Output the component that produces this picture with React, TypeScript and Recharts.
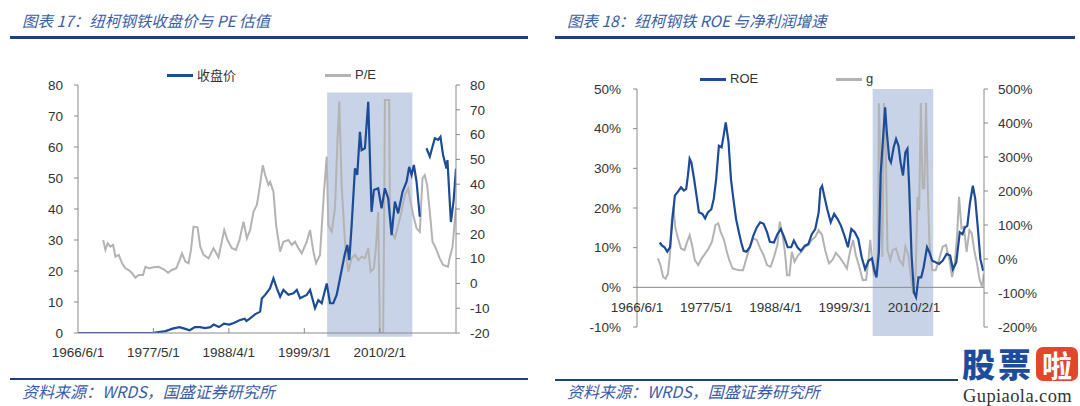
import React from 'react';
import { LineChart, Line, XAxis, YAxis, ReferenceArea, ReferenceLine } from 'recharts';

// ---------- shared x axis ----------
const xTickValues = [1966.42, 1977.33, 1988.25, 1999.17, 2010.08];
const xTickLabels = ['1966/6/1', '1977/5/1', '1988/4/1', '1999/3/1', '2010/2/1'];
const xDomain = [1966.42, 2021.12];

// ---------- chart 17: price & P/E ----------
const priceYears = [
  1966.42, 1977.11, 1978.11, 1979.1, 1980.1, 1981.09, 1981.84, 1982.58, 1983.33, 1984.07,
  1984.82, 1985.57, 1986.06, 1986.81, 1987.55, 1988.3, 1989.05, 1989.79, 1990.54, 1990.79,
  1991.33, 1992.03, 1992.78, 1993.02, 1993.5, 1994.2, 1994.7, 1995.2, 1995.67, 1996.14,
  1996.87, 1997.59, 1998.08, 1998.56, 1999.52, 2000.0, 2000.72, 2001.2, 2001.69, 2002.41,
  2002.89, 2003.36, 2003.85, 2004.33, 2005.05, 2005.39, 2005.68, 2006.02, 2006.5, 2006.83,
  2007.22, 2007.46, 2007.94, 2008.42, 2008.9, 2009.24, 2009.86, 2010.35, 2010.83, 2011.31,
  2011.8, 2012.28, 2012.75, 2013.39, 2013.97, 2014.34, 2014.69, 2015.02, 2015.41, 2015.88,
  2016.3, 2016.85, 2017.33, 2018.05, 2018.53, 2018.87, 2019.25, 2019.74, 2019.88, 2020.38,
  2020.78, 2021.12,
];
const priceValues: (number | null)[] = [
  0, 0, 0.3, 0.6, 1.4, 1.9, 1.4, 0.9, 1.9, 1.9,
  1.6, 1.9, 2.7, 1.9, 3.0, 2.7, 3.3, 4.1, 4.6, 3.9,
  4.7, 6.0, 6.9, 11.1, 12.3, 14.4, 17.6, 14.4, 11.7, 13.9,
  12.3, 12.8, 13.9, 11.2, 12.3, 13.9, 8.0, 10.6, 9.6, 16.0,
  9.6, 9.6, 12.3, 17.6, 25.7, 28.4, 23.5, 34.8, 53.1, 51.0,
  64.9, 59.0, 59.6, 74.6, 39.1, 46.1, 46.7, 40.2, 46.7, 43.4,
  31.6, 42.4, 38.6, 45.6, 48.8, 53.6, 51.0, 54.2, 48.8, 37.5,
  null, 59.6, 56.9, 62.8, 62.3, 63.3, 57.4, 53.1, 55.8, 35.8,
  42.8, 53.0,
];

const peYears = [
  1970.06, 1970.39, 1970.72, 1971.11, 1971.5, 1971.84, 1972.31, 1972.8, 1973.28, 1973.76,
  1974.25, 1974.72, 1975.2, 1975.83, 1976.17, 1976.65, 1977.37, 1978.09, 1978.81, 1979.45,
  1980.02, 1980.65, 1981.12, 1981.47, 1981.95, 1982.42, 1982.77, 1983.14, 1983.72, 1984.11,
  1984.59, 1985.31, 1986.03, 1986.75, 1987.58, 1988.05, 1988.69, 1989.27, 1989.79, 1990.37,
  1990.86, 1991.33, 1991.81, 1992.3, 1992.54, 1993.17, 1993.5, 1993.98, 1994.22, 1994.7,
  1995.09, 1995.67, 1996.14, 1996.87, 1997.35, 1997.83, 1998.31, 1998.8, 1999.52, 2000.0,
  2000.48, 2000.87, 2001.44, 2002.02, 2002.41, 2002.64, 2003.13, 2003.61, 2003.94, 2004.23,
  2004.57, 2005.05, 2005.53, 2006.02, 2006.5, 2006.98, 2007.47, 2007.94, 2008.42, 2008.76,
  2009.24, 2009.53, 2009.86, 2010.1, 2010.58, 2010.73, 2010.83, 2011.45, 2011.55, 2011.8,
  2012.28, 2012.75, 2013.24, 2013.72, 2014.2, 2014.54, 2014.93, 2015.41, 2015.88, 2016.27,
  2016.6, 2016.94, 2017.33, 2017.72, 2018.2, 2018.77, 2019.25, 2019.97, 2020.12, 2020.62,
  2021.12,
];
const peValues = [
  17.5, 13.5, 16.2, 14.8, 15.5, 10.8, 11.5, 8.1, 6.1, 5.4,
  4.1, 2.3, 3.4, 3.4, 6.7, 6.1, 6.5, 6.7, 5.7, 4.3,
  5.4, 6.1, 9.4, 12.1, 8.8, 8.1, 13.5, 22.9, 22.6, 14.8,
  11.5, 10.1, 14.2, 10.5, 21.5, 17.5, 14.2, 13.5, 17.5, 24.9,
  18.2, 21.5, 28.9, 31.6, 35.6, 47.7, 43.7, 39.7, 41.0, 37.0,
  23.5, 12.8, 16.8, 17.5, 15.5, 16.8, 14.2, 12.1, 16.8, 21.5,
  12.8, 8.1, 11.5, 37.0, 51.1, 23.5, 20.8, 30.3, 55.8, 73.3,
  39.7, 16.8, 4.7, 10.1, 11.5, 9.4, 10.8, 10.1, 14.2, 4.7,
  6.1, 14.2, 28.9, -20, -20, 28.9, 74, 74, 28.9, 20.8,
  18.2, 23.5, 28.9, 35.6, 38.3, 33.0, 27.6, 22.2, 20.8, 42.4,
  43.7, 39.7, 28.9, 16.8, 14.2, 10.1, 7.4, 6.7, 9.3, 14.7,
  30.9,
];
const priceTicks = [0, 10, 20, 30, 40, 50, 60, 70, 80];
const peTicks = [-20, -10, 0, 10, 20, 30, 40, 50, 60, 70, 80];
const shade17 = { x1: 2002.47, x2: 2014.81, y1: -1.2, y2: 77.6 };

// ---------- chart 18: ROE & g ----------
const roeYears = [
  1970.0, 1970.38, 1970.76, 1971.19, 1971.63, 1972.01, 1972.39, 1972.82, 1973.36, 1973.8,
  1974.18, 1974.45, 1974.72, 1974.99, 1975.42, 1975.8, 1976.18, 1976.73, 1977.16, 1977.59,
  1978.14, 1978.52, 1978.9, 1979.33, 1979.76, 1980.03, 1980.41, 1980.85, 1981.23, 1981.61,
  1982.04, 1982.48, 1982.85, 1983.23, 1983.67, 1984.21, 1984.75, 1985.3, 1985.84, 1986.38,
  1986.92, 1987.36, 1988.01, 1988.55, 1989.09, 1989.63, 1990.18, 1990.72, 1991.15, 1991.7,
  1992.24, 1992.89, 1993.43, 1993.97, 1994.52, 1995.06, 1995.33, 1995.6, 1995.93, 1996.41,
  1996.96, 1997.5, 1998.04, 1998.58, 1999.13, 1999.67, 2000.21, 2000.75, 2001.3, 2001.84,
  2002.38, 2002.92, 2003.47, 2003.85, 2004.17, 2004.55, 2004.82, 2005.2, 2005.53, 2005.8,
  2006.18, 2006.45, 2006.88, 2007.26, 2007.64, 2007.97, 2008.35, 2008.73, 2009.05, 2009.32,
  2009.7, 2010.08, 2010.41, 2010.79, 2011.22, 2011.6, 2012.14, 2012.52, 2012.96, 2013.5,
  2014.04, 2014.59, 2015.24, 2015.78, 2016.21, 2016.75, 2017.3, 2017.73, 2018.11, 2018.49,
  2018.92, 2019.36, 2019.74, 2020.12, 2020.55, 2020.99,
];
const roeValues = [
  11.3, 10.5, 10.1, 9.0, 10.1, 17.2, 23.1, 24.0, 25.2, 24.4,
  24.8, 28.2, 32.4, 31.5, 27.3, 23.1, 18.9, 18.5, 17.4, 18.9,
  19.7, 22.3, 27.3, 35.7, 35.3, 37.8, 41.6, 36.6, 27.3, 22.3,
  17.2, 13.9, 11.3, 9.2, 9.0, 10.1, 13.0, 15.1, 16.4, 16.0,
  13.9, 11.5, 11.3, 13.4, 14.7, 12.6, 10.1, 10.1, 11.8, 10.1,
  9.2, 10.5, 10.9, 13.4, 14.7, 18.9, 24.8, 25.6, 23.1, 19.7,
  16.4, 18.5, 17.2, 15.5, 13.0, 10.1, 14.7, 13.9, 12.2, 7.6,
  4.6, 6.7, 7.3, 4.2, 2.5, 8.8, 28.2, 37.4, 45.4, 39.1,
  32.4, 31.5, 35.3, 37.4, 35.7, 31.5, 28.2, 34.0, 34.9, 25.6,
  8.0, -1.3, -2.5, 2.5, 2.5, 5.0, 10.1, 8.8, 6.7, 6.3,
  5.9, 6.7, 8.4, 8.0, 4.6, 6.3, 13.9, 13.4, 15.1, 15.5,
  21.4, 25.6, 22.3, 15.5, 7.1, 4.2,
];

const gYears = [
  1969.73, 1970.11, 1970.54, 1970.92, 1971.3, 1971.63, 1971.9, 1972.17, 1972.44, 1972.82,
  1973.36, 1973.91, 1974.34, 1974.72, 1975.1, 1975.53, 1976.07, 1976.62, 1977.16, 1977.7,
  1978.24, 1978.79, 1979.22, 1979.6, 1980.14, 1980.58, 1980.96, 1981.5, 1982.04, 1982.58,
  1983.13, 1983.67, 1984.21, 1984.75, 1985.3, 1985.84, 1986.38, 1986.92, 1987.47, 1988.01,
  1988.55, 1988.93, 1989.36, 1989.74, 1990.07, 1990.45, 1990.83, 1991.26, 1991.8, 1992.35,
  1992.89, 1993.43, 1993.97, 1994.52, 1995.06, 1995.6, 1996.14, 1996.69, 1997.23, 1997.77,
  1998.31, 1998.86, 1999.51, 1999.94, 2000.48, 2000.92, 2001.46, 2002.0, 2002.54, 2002.92,
  2003.19, 2003.47, 2003.74, 2004.12, 2004.39, 2004.55, 2004.82, 2005.09, 2005.36, 2005.64,
  2005.91, 2006.34, 2006.72, 2007.26, 2007.8, 2008.35, 2008.73, 2009.16, 2009.59, 2009.97,
  2010.35, 2010.63, 2010.9, 2011.17, 2011.44, 2011.71, 2011.98, 2012.25, 2012.52, 2012.96,
  2013.5, 2014.04, 2014.59, 2015.13, 2015.67, 2016.1, 2016.48, 2016.86, 2017.19, 2017.57,
  2017.95, 2018.38, 2018.82, 2019.2, 2019.58, 2020.01, 2020.44, 2020.82, 2021.09,
];
const gValues = [
  2, -18, -53, -58, -43, 16, 115, 154, 95, 65,
  31, 26, 51, 70, 41, -3, -18, 2, 16, 31,
  51, 100, 105, 80, 56, 21, -3, -28, -31, -33,
  -33, 2, 36, 61, 56, 31, 11, -18, -23, 6,
  41, 110, 70, 21, -48, -48, 21, -8, 11, 21,
  36, 41, 56, 65, 85, 70, 21, -13, -3, 18,
  6, -8, -28, 16, 56, 11, -23, -62, -61, 2,
  56, -3, -43, -28, 16, 459, 291, 6, 459, 311,
  26, -3, 26, 31, -3, -18, 36, 16, -53, -102,
  -43, 183, 144, 459, 208, 208, 459, 213, 46, -33,
  -33, -3, 36, 41, -3, -53, -18, 65, 183, 90,
  95, 21, 85, 75, 26, -13, -62, -82, -43,
];
const roeTicks = [-10, 0, 10, 20, 30, 40, 50];
const gTicks = [-200, -100, 0, 100, 200, 300, 400, 500];
const shade18 = { x1: 2003.57, x2: 2013.12, y1: -12.3, y2: 50 };

// ---------- build tables ----------
const priceData = priceYears.map((year, i) => ({ year, price: priceValues[i] }));
const peData = peYears.map((year, i) => ({ year, pe: peValues[i] }));
const roeData = roeYears.map((year, i) => ({ year, roe: roeValues[i] }));
const gData = gYears.map((year, i) => ({ year, g: gValues[i] }));

// ---------- styles ----------
const BLUE = '#1C4B97';
const GRAY = '#B3B3B3';
const SHADE = '#C9D3E7';
const AXIS = '#8A8A8A';
const TEXT = '#333333';
const TITLE = '#3A5DA5';
const RULE = '#1F3F7F';
const FONT = '"Liberation Sans", Arial, sans-serif';
const CJK = '"Noto Sans CJK SC", sans-serif';
const TICK_FS = 13.5;

const fmtX = (v: number) => {
  const i = xTickValues.indexOf(v);
  return i >= 0 ? xTickLabels[i] : '';
};
const pct = (v: number) => `${v}%`;
const tickStyle = { fill: TEXT, fontSize: TICK_FS, fontFamily: FONT };

const LeftXTick = (props: any) => {
  const { x, y, payload } = props;
  return (
    <g>
      {payload.value > xDomain[0] + 0.01 && (
        <line x1={x} x2={x} y1={y} y2={y - 5} stroke={AXIS} strokeWidth={1} />
      )}
      <text x={x} y={y + 24} textAnchor="middle" fill={TEXT} fontSize={TICK_FS} fontFamily={FONT}>
        {fmtX(payload.value)}
      </text>
    </g>
  );
};

const RightXTick = (props: any) => {
  const { x, y, payload } = props;
  return (
    <text x={x} y={y - 15.5} textAnchor="middle" fill={TEXT} fontSize={TICK_FS} fontFamily={FONT}>
      {fmtX(payload.value)}
    </text>
  );
};

const abs = (o: React.CSSProperties): React.CSSProperties => ({ position: 'absolute', ...o });

const LegendItem = ({ left, top, color, label, cjk }: any) => (
  <>
    <div style={abs({ left, top: top - 1, width: 26, height: 2.5, background: color })} />
    <div
      style={abs({
        left: left + 30,
        top: top - 9,
        height: 18,
        lineHeight: '18px',
        fontSize: 13,
        fontFamily: cjk ? CJK : FONT,
        color: TEXT,
        whiteSpace: 'nowrap',
      })}
    >
      {label}
    </div>
  </>
);

const Title = ({ left, text }: any) => (
  <div
    style={abs({
      left,
      top: 9,
      height: 22,
      lineHeight: '22px',
      fontSize: 15.5,
      fontStyle: 'italic',
      fontFamily: CJK,
      color: TITLE,
      whiteSpace: 'pre',
    })}
  >
    {text}
  </div>
);

const Footer = ({ left, text }: any) => (
  <div
    style={abs({
      left,
      top: 380,
      height: 22,
      lineHeight: '22px',
      fontSize: 16,
      fontStyle: 'italic',
      fontFamily: CJK,
      color: TITLE,
      whiteSpace: 'pre',
    })}
  >
    {text}
  </div>
);

export default function App() {
  return (
    <div style={abs({ left: 0, top: 0, width: 1080, height: 406, background: '#fff', overflow: 'hidden' })}>
      <Title left={22} text={'图表 17：纽柯钢铁收盘价与 PE 估值'} />
      <Title left={567} text={'图表 18：纽柯钢铁 ROE 与净利润增速'} />
      <div style={abs({ left: 10, top: 36, width: 518, height: 2.5, background: RULE })} />
      <div style={abs({ left: 555, top: 36, width: 520, height: 2.5, background: RULE })} />

      {/* Chart 17 */}
      <div style={abs({ left: 0, top: 0 })}>
        <LineChart width={540} height={406} margin={{ top: 85, right: 34, bottom: 43, left: 38 }}>
          <XAxis
            type="number"
            dataKey="year"
            domain={xDomain}
            ticks={xTickValues}
            allowDataOverflow
            stroke={AXIS}
            tickLine={false}
            tickSize={0}
            tickMargin={0}
            tick={<LeftXTick />}
            height={30}
            interval={0}
          />
          <YAxis
            yAxisId="price"
            domain={[0, 80]}
            ticks={priceTicks}
            width={40}
            stroke={AXIS}
            tickSize={4}
            tickMargin={11}
            tick={tickStyle}
            allowDataOverflow
            interval={0}
          />
          <YAxis
            yAxisId="pe"
            orientation="right"
            domain={[-20, 80]}
            ticks={peTicks}
            width={50}
            stroke={AXIS}
            tickSize={4}
            tickMargin={10}
            tick={{ ...tickStyle, textAnchor: 'start' }}
            allowDataOverflow
            interval={0}
          />
          <ReferenceArea
            yAxisId="price"
            x1={shade17.x1}
            x2={shade17.x2}
            y1={shade17.y1}
            y2={shade17.y2}
            fill={SHADE}
            fillOpacity={1}
            stroke="none"
            ifOverflow="visible"
          />
          <Line
            yAxisId="pe"
            data={peData}
            dataKey="pe"
            type="linear"
            stroke={GRAY}
            strokeWidth={2}
            dot={false}
            activeDot={false}
            isAnimationActive={false}
          />
          <Line
            yAxisId="price"
            data={priceData}
            dataKey="price"
            type="linear"
            stroke={BLUE}
            strokeWidth={2.2}
            dot={false}
            activeDot={false}
            connectNulls={false}
            isAnimationActive={false}
          />
        </LineChart>
      </div>

      {/* Chart 18 */}
      <div style={abs({ left: 540, top: 0 })}>
        <LineChart width={540} height={406} margin={{ top: 89, right: 46, bottom: 49, left: 57 }}>
          <XAxis
            type="number"
            dataKey="year"
            domain={xDomain}
            ticks={xTickValues}
            allowDataOverflow
            axisLine={false}
            tickLine={false}
            tickSize={0}
            tickMargin={0}
            tick={<RightXTick />}
            height={30}
            interval={0}
          />
          <YAxis
            yAxisId="roe"
            domain={[-10, 50]}
            ticks={roeTicks}
            tickFormatter={pct}
            width={40}
            stroke={AXIS}
            tickSize={4}
            tickMargin={12}
            tick={tickStyle}
            allowDataOverflow
            interval={0}
          />
          <YAxis
            yAxisId="g"
            orientation="right"
            domain={[-200, 500]}
            ticks={gTicks}
            tickFormatter={pct}
            width={50}
            stroke={AXIS}
            tickSize={4}
            tickMargin={10}
            tick={{ ...tickStyle, textAnchor: 'start' }}
            allowDataOverflow
            interval={0}
          />
          <ReferenceArea
            yAxisId="roe"
            x1={shade18.x1}
            x2={shade18.x2}
            y1={shade18.y1}
            y2={shade18.y2}
            fill={SHADE}
            fillOpacity={1}
            stroke="none"
            ifOverflow="visible"
          />
          <ReferenceLine yAxisId="roe" y={0} stroke={AXIS} strokeWidth={1} />
          <Line
            yAxisId="g"
            data={gData}
            dataKey="g"
            type="linear"
            stroke={GRAY}
            strokeWidth={2}
            dot={false}
            activeDot={false}
            isAnimationActive={false}
          />
          <Line
            yAxisId="roe"
            data={roeData}
            dataKey="roe"
            type="linear"
            stroke={BLUE}
            strokeWidth={2.2}
            dot={false}
            activeDot={false}
            isAnimationActive={false}
          />
        </LineChart>
      </div>

      <LegendItem left={167} top={75} color={BLUE} label="收盘价" cjk />
      <LegendItem left={325} top={75} color={GRAY} label="P/E" />
      <LegendItem left={700} top={79} color={BLUE} label="ROE" />
      <LegendItem left={836} top={79} color={GRAY} label="g" />

      <div style={abs({ left: 10, top: 378, width: 518, height: 2, background: RULE })} />
      <div style={abs({ left: 555, top: 379, width: 522, height: 2, background: RULE })} />
      <Footer left={22} text={'资料来源：WRDS，国盛证券研究所'} />
      <Footer left={567} text={'资料来源：WRDS，国盛证券研究所'} />

      {/* watermark */}
      <div style={abs({ left: 958, top: 344, width: 122, height: 62, background: '#fff' })} />
      <div
        style={abs({
          left: 962,
          top: 345,
          height: 36,
          lineHeight: '36px',
          fontSize: 33,
          fontWeight: 900,
          fontFamily: CJK,
          color: '#1E4C9A',
          letterSpacing: 3,
          whiteSpace: 'nowrap',
        })}
      >
        股票
      </div>
      <div
        style={abs({
          left: 1036,
          top: 347,
          width: 42,
          height: 34,
          borderRadius: 7,
          background: '#E2462E',
          color: '#fff',
          fontSize: 30,
          lineHeight: '34px',
          textAlign: 'center',
          fontWeight: 700,
          fontFamily: CJK,
        })}
      >
        啦
      </div>
      <div
        style={abs({
          left: 963,
          top: 385,
          height: 22,
          lineHeight: '22px',
          fontSize: 18.5,
          fontFamily: '"Liberation Serif", "DejaVu Serif", serif',
          color: '#333',
          letterSpacing: 0.4,
          whiteSpace: 'nowrap',
        })}
      >
        Gupiaola.com
      </div>
    </div>
  );
}
